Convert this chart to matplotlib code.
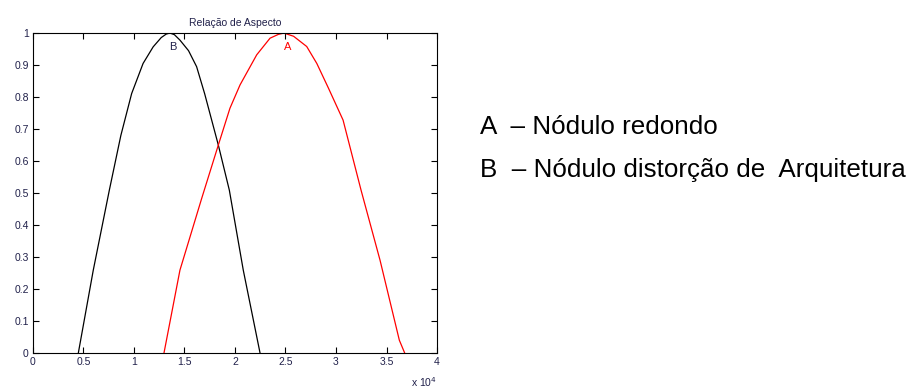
import matplotlib.pyplot as plt

# Funções de pertinência (x em unidades de 1e4)
b_x = [0.449, 0.597, 0.756, 0.870, 0.977, 1.09, 1.19, 1.27, 1.32, 1.356, 1.40, 1.455, 1.54, 1.62, 1.70, 1.835, 1.944, 2.082, 2.248]
b_y = [0.0, 0.259, 0.509, 0.680, 0.811, 0.905, 0.957, 0.986, 0.997, 1.0, 0.995, 0.978, 0.945, 0.895, 0.810, 0.650, 0.509, 0.259, 0.0]

a_x = [1.297, 1.455, 1.67, 1.835, 1.95, 2.05, 2.215, 2.347, 2.43, 2.485, 2.58, 2.71, 2.81, 2.925, 3.07, 3.248, 3.436, 3.627, 3.68]
a_y = [0.0, 0.259, 0.483, 0.650, 0.765, 0.838, 0.932, 0.984, 0.996, 1.0, 0.990, 0.958, 0.905, 0.828, 0.728, 0.509, 0.290, 0.040, 0.0]

x_ticks = [0, 0.5, 1, 1.5, 2, 2.5, 3, 3.5, 4]
y_ticks = [0, 0.1, 0.2, 0.3, 0.4, 0.5, 0.6, 0.7, 0.8, 0.9, 1]

legend_lines = ["A  \u2013 Nódulo redondo", "B  \u2013 Nódulo distorção de  Arquitetura"]

plt.rcParams['font.family'] = ['Liberation Sans', 'DejaVu Sans']
label_color = '#20204a'

fig = plt.figure(figsize=(9.21, 3.89), dpi=100)
ax = fig.add_axes([0.0358, 0.0925, 0.4387, 0.8225])

ax.plot(b_x, b_y, color='black', lw=0.9)
ax.plot(a_x, a_y, color='red', lw=0.9)
ax.text(1.38, 0.955, 'B', color=label_color, fontsize=8, ha='center', va='center')
ax.text(2.52, 0.955, 'A', color='red', fontsize=8, ha='center', va='center')

ax.set_xlim(0, 4)
ax.set_ylim(0, 1)
ax.set_xticks(x_ticks)
ax.set_xticklabels(['0', '0.5', '1', '1.5', '2', '2.5', '3', '3.5', '4'])
ax.set_yticks(y_ticks)
ax.set_yticklabels(['0', '0.1', '0.2', '0.3', '0.4', '0.5', '0.6', '0.7', '0.8', '0.9', '1'])
ax.tick_params(direction='in', length=4, width=0.8, top=True, right=True,
               labelsize=7.5, labelcolor=label_color, pad=3)
for s in ax.spines.values():
    s.set_linewidth(0.8)

ax.set_title('Relação de Aspecto', fontsize=7.5, color=label_color, pad=5)
ax.text(1.0, -0.068, r'x 10$^{4}$', transform=ax.transAxes, ha='right', va='top',
        fontsize=7.5, color=label_color)

fig.text(480 / 921, 1 - 127 / 389, legend_lines[0], fontsize=18.7, va='center', ha='left')
fig.text(480 / 921, 1 - 170 / 389, legend_lines[1], fontsize=18.7, va='center', ha='left')

fig.savefig('out.png', dpi=100)
